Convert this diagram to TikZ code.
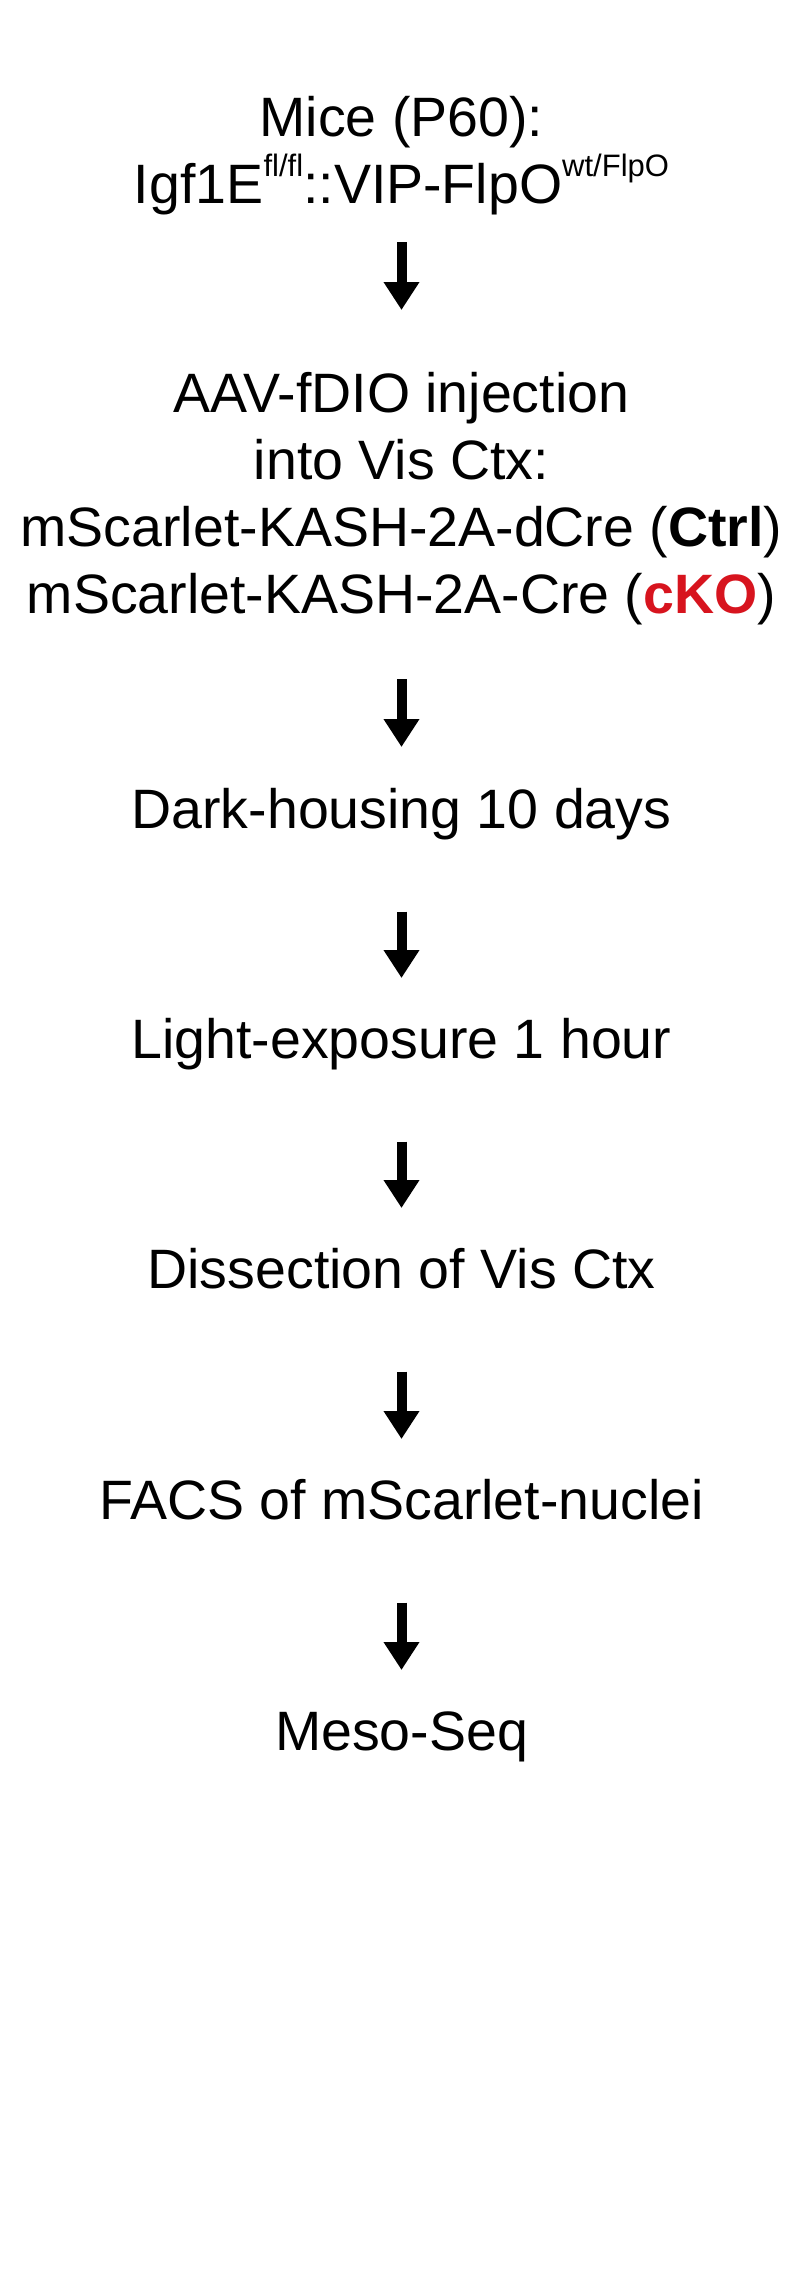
\documentclass[tikz,border=0pt]{standalone}
\usepackage{fontspec}
\setmainfont{Liberation Sans}
\usepackage{xcolor}
\usetikzlibrary{arrows.meta}
\definecolor{knockout}{HTML}{D7141E}
\newcommand{\allele}[1]{\raisebox{13.5pt}{\fontsize{15.5pt}{15.5pt}\selectfont #1}}

\begin{document}
\begin{tikzpicture}[
        stepbox/.style={anchor=north, inner sep=0pt, align=center, font=\fontsize{27.75pt}{33.5pt}\selectfont},
        oneline/.style={stepbox, text height=20.2pt, text depth=5.85pt},
        flow/.style={line width=5pt, -{Triangle[width=17pt,length=14pt]}, shorten <=35.5pt, shorten >=19.8pt}]
        \useasboundingbox (0,0) rectangle (401.5pt,-1138pt);
        % Pasos del protocolo
        \node[stepbox] (mice) at (200.75pt,-47.8pt)
            {Mice (P60):\\Igf1E\allele{fl/fl}::VIP-FlpO\allele{wt/FlpO}};
        \node[stepbox] (aav) at (200.75pt,-185.8pt)
            {AAV-fDIO injection\\into Vis Ctx:\\mScarlet-KASH-2A-dCre (\textbf{Ctrl})\\mScarlet-KASH-2A-Cre (\textcolor{knockout}{\textbf{cKO}})};
        \node[oneline] (dark) at (200.75pt,-393.8pt) {Dark-housing 10 days};
        \node[oneline] (light) at (200.75pt,-508.8pt) {Light-exposure 1 hour};
        \node[oneline] (dissect) at (200.75pt,-623.8pt) {Dissection of Vis Ctx};
        \node[oneline] (facs) at (200.75pt,-739.3pt) {FACS of mScarlet-nuclei};
        \node[oneline] (meso) at (200.75pt,-854.8pt) {Meso-Seq};
        % Flechas entre pasos
        \draw[flow, shorten <=13.65pt, shorten >=30.8pt] (mice) -- (aav);
        \draw[flow, shorten <=27.15pt, shorten >=20.3pt] (aav) -- (dark);
        \draw[flow] (dark) -- (light);
        \draw[flow] (light) -- (dissect);
        \draw[flow] (dissect) -- (facs);
        \draw[flow] (facs) -- (meso);
    \end{tikzpicture}
\end{document}
